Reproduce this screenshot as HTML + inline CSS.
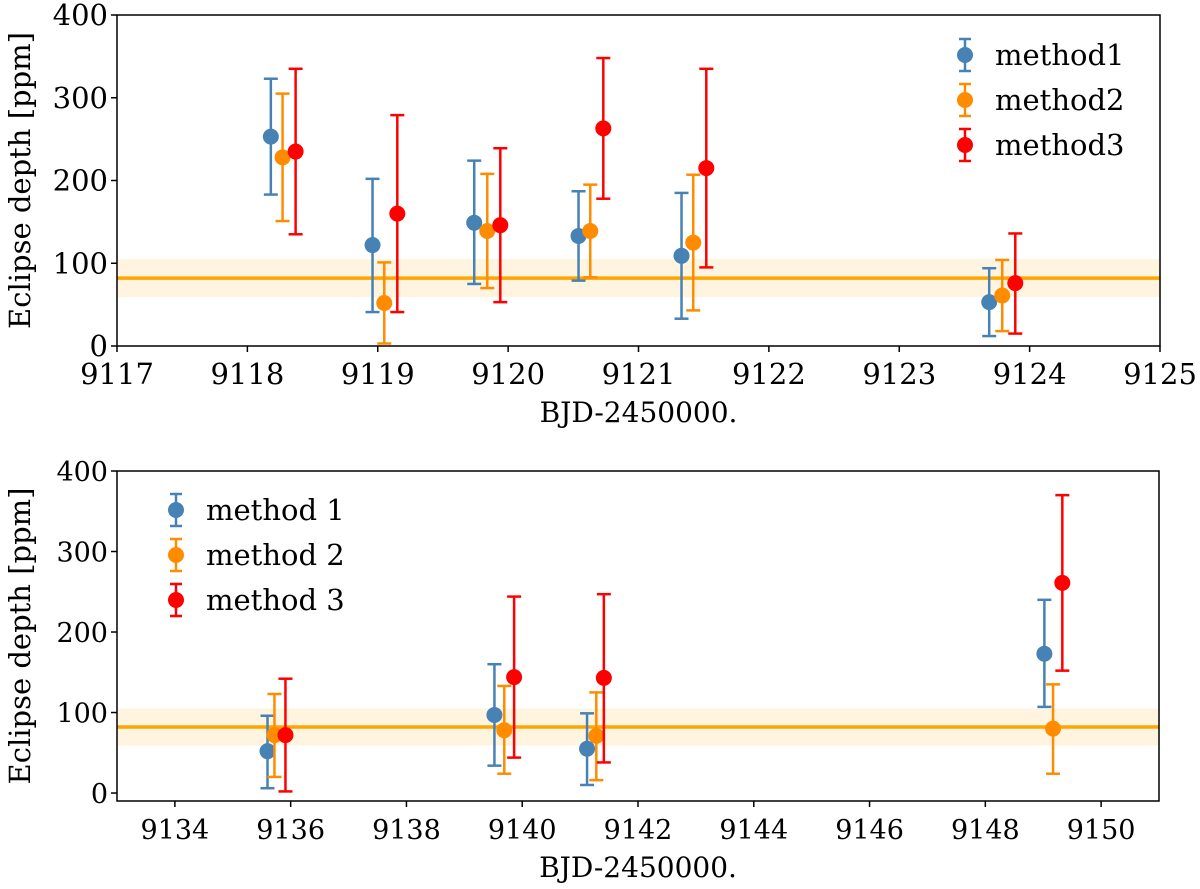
<!DOCTYPE html>
<html><head><meta charset="utf-8"><style>
body{margin:0;background:#fff}
svg{display:block;font-family:"DejaVu Serif","Liberation Serif",serif}
</style></head><body>
<svg id="c" width="1200" height="889"></svg>
<script>
const colors=["#4682b4","#ff8c00","#ff0000"];
const topNames=["method1","method2","method3"];
const botNames=["method 1","method 2","method 3"];
const refDepth=82, refErr=23;
const topX=[[9118.18,9118.96,9119.74,9120.54,9121.33,9123.69],[9118.27,9119.05,9119.84,9120.63,9121.42,9123.79],[9118.37,9119.15,9119.94,9120.73,9121.52,9123.89]];
const topY=[[253,122,149,133,109,53],[228,52,139,139,125,61],[235,160,146,263,215,76]];
const topLo=[[183,41,75,79,33,12],[151,3,70,83,43,18],[135,41,53,178,95,15]];
const topHi=[[323,202,224,187,185,94],[305,101,208,195,207,104],[335,279,239,348,335,136]];
const botX=[[9135.60,9139.52,9141.12,9149.02],[9135.72,9139.69,9141.28,9149.17],[9135.91,9139.86,9141.41,9149.33]];
const botY=[[52,97,55,173],[72,78,71,80],[72,144,143,261]];
const botLo=[[6,34,10,107],[20,24,16,24],[2,44,38,152]];
const botHi=[[96,160,99,240],[123,133,125,135],[142,244,247,370]];
const topXTicks=[9117,9118,9119,9120,9121,9122,9123,9124,9125];
const botXTicks=[9134,9136,9138,9140,9142,9144,9146,9148,9150];
const yTicks=[0,100,200,300,400];

const svg=document.getElementById('c');const NS="http://www.w3.org/2000/svg";
function mk(t,a,p){const e=document.createElementNS(NS,t);for(const k in a)e.setAttribute(k,a[k]);(p||svg).appendChild(e);return e;}
function panel(cfg){
  const g=mk('g',{});
  
  
  const X=v=>cfg.L+(v-cfg.x0)/(cfg.x1-cfg.x0)*(cfg.R-cfg.L);
  const Y=v=>cfg.B-(v-cfg.y0)/(cfg.y1-cfg.y0)*(cfg.B-cfg.T);
  const band=mk('rect',{x:cfg.L,y:Y(refDepth+refErr),width:cfg.R-cfg.L,height:Y(refDepth-refErr)-Y(refDepth+refErr),fill:"#ffa500","fill-opacity":0.12},g);
  
  const ln=mk('line',{x1:cfg.L,x2:cfg.R,y1:Y(refDepth),y2:Y(refDepth),stroke:"#ffa500","stroke-width":3.5},g);
  
  for(let m=0;m<3;m++){for(let i=0;i<cfg.xs[m].length;i++){
    const pg=mk('g',{stroke:colors[m],fill:colors[m],"stroke-width":2.5},g);
    
    const x=X(cfg.xs[m][i]);
    mk('line',{x1:x,x2:x,y1:Y(cfg.lo[m][i]),y2:Y(cfg.hi[m][i])},pg);
    mk('line',{x1:x-7,x2:x+7,y1:Y(cfg.lo[m][i]),y2:Y(cfg.lo[m][i])},pg);
    mk('line',{x1:x-7,x2:x+7,y1:Y(cfg.hi[m][i]),y2:Y(cfg.hi[m][i])},pg);
    mk('circle',{cx:x,cy:Y(cfg.ys[m][i]),r:8,stroke:"none"},pg);
  }}
  const fr=mk('rect',{x:cfg.L,y:cfg.T,width:cfg.R-cfg.L,height:cfg.B-cfg.T,fill:"none",stroke:"#000","stroke-width":1.5},g);
  
  cfg.xt.forEach(v=>{const x=X(v);mk('line',{x1:x,x2:x,y1:cfg.B,y2:cfg.B+6,stroke:"#000","stroke-width":1.5},g);
    const t=mk('text',{x:x,y:cfg.B+38,"text-anchor":"middle","font-size":cfg.fs},g);t.textContent=v;
    });
  yTicks.forEach(v=>{const y=Y(v);mk('line',{x1:cfg.L,x2:cfg.L-6,y1:y,y2:y,stroke:"#000","stroke-width":1.5},g);
    const t=mk('text',{x:cfg.L-9,y:y+10,"text-anchor":"end","font-size":cfg.fs},g);t.textContent=v;
    });
  const xl=mk('text',{x:(cfg.L+cfg.R)/2,y:cfg.B+76,"text-anchor":"middle","font-size":28},g);xl.textContent="BJD-2450000.";
  
  const yl=mk('text',{x:0,y:0,"text-anchor":"middle","font-size":29,transform:`translate(30,${(cfg.T+cfg.B)/2}) rotate(-90)`},g);yl.textContent="Eclipse depth [ppm]";
  
  for(let m=0;m<3;m++){const lg=mk('g',{stroke:colors[m],fill:colors[m],"stroke-width":2.5},g);
    
    const lx=cfg.lgx,ly=cfg.lgy+m*45;
    mk('line',{x1:lx,x2:lx,y1:ly-16,y2:ly+16},lg);mk('line',{x1:lx-6,x2:lx+6,y1:ly-16,y2:ly-16},lg);mk('line',{x1:lx-6,x2:lx+6,y1:ly+16,y2:ly+16},lg);
    mk('circle',{cx:lx,cy:ly,r:8,stroke:"none"},lg);
    const t=mk('text',{x:lx+30,y:ly+10,"font-size":29,fill:"#000",stroke:"none"},lg);t.textContent=cfg.names[m];}
}
panel({name:'top-panel',L:117,R:1160,T:15,B:346,x0:9117,x1:9125,y0:0,y1:400,xs:topX,ys:topY,lo:topLo,hi:topHi,xt:topXTicks,fs:29,lgx:965,lgy:55,names:topNames});
panel({name:'bottom-panel',L:117,R:1159,T:471,B:801,x0:9133,x1:9151,y0:-9.9,y1:400,xs:botX,ys:botY,lo:botLo,hi:botHi,xt:botXTicks,fs:27,lgx:176,lgy:510,names:botNames});
</script>
</body></html>
